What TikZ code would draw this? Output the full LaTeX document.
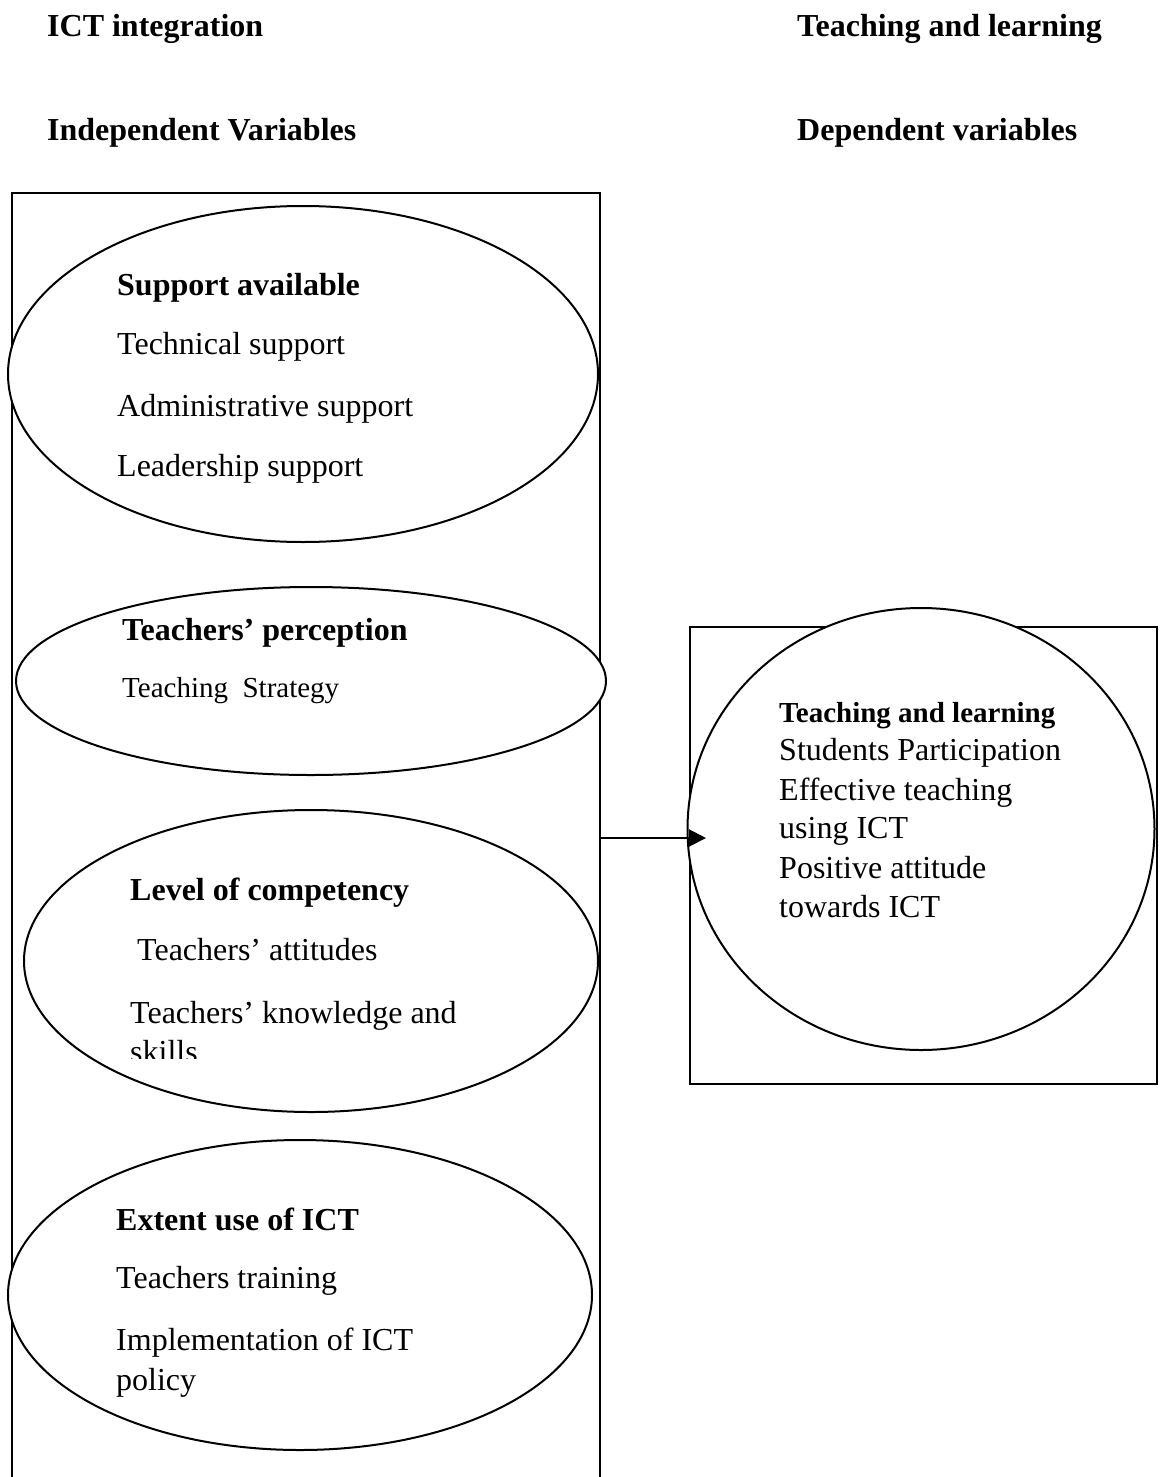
\documentclass[tikz,border=0pt]{standalone}
\usepackage{fontspec}
\setmainfont{Liberation Serif}
\usetikzlibrary{shapes.geometric,arrows.meta}
\tikzset{
  oval/.style={draw, ellipse, fill=white, line width=2pt, inner sep=0pt, outer sep=0pt},
  txt/.style={anchor=base west, inner sep=0pt, font=\fontsize{32}{38}\selectfont},
  bold/.style={txt, font=\fontsize{32}{38}\selectfont\bfseries},
  small/.style={txt, font=\fontsize{29}{35}\selectfont},
}
\begin{document}
\begin{tikzpicture}[x=1pt, y=-1pt]
  \useasboundingbox (0,0) rectangle (1160,1477);
  % headings
  \node[bold] (h1) at (47,37) {ICT integration};
  \node[bold] (h2) at (797,37) {Teaching and learning};
  \node[bold] (h3) at (47,140) {Independent Variables};
  \node[bold] (h4) at (797,140) {Dependent variables};
  % boxes
  \draw[line width=2pt] (12,1480) -- (12,193) -- (600,193) -- (600,1480);
  \draw[line width=2pt] (690,627) rectangle (1157,1084);
  % ovals
  \node[oval, minimum width=590pt, minimum height=336pt] (support) at (303,374) {};
  \node[oval, minimum width=590pt, minimum height=188pt] (percep) at (311,681) {};
  \node[oval, minimum width=574pt, minimum height=302pt] (compet) at (311,961) {};
  \node[oval, minimum width=584pt, minimum height=310pt] (extent) at (300,1295) {};
  \node[oval, minimum width=467pt, minimum height=442pt] (teach) at (921,829) {};
  % texts
  \node[bold] (s0) at (117,295) {Support available};
  \node[txt] (s1) at (117,354) {Technical support};
  \node[txt] (s2) at (117,416) {Administrative support};
  \node[txt] (s3) at (117,476) {Leadership support};
  \node[bold] (p0) at (122,640) {Teachers’ perception};
  \node[small] (p1) at (122,697) {Teaching\ \ Strategy};
  \node[bold] (c0) at (130,900) {Level of competency};
  \node[txt] (c1) at (137,960) {Teachers’ attitudes};
  \node[txt] (c2) at (130,1023) {Teachers’ knowledge and};
  \begin{scope}
    \clip (0,0) rectangle (1160,1058);
    \node[txt] (c3) at (130,1062) {skills};
  \end{scope}
  \node[bold] (e0) at (116,1230) {Extent use of ICT};
  \node[txt] (e1) at (116,1288) {Teachers training};
  \node[txt] (e2) at (116,1350) {Implementation of ICT};
  \node[txt] (e3) at (116,1390) {policy};
  \node[bold, font=\fontsize{29}{35}\selectfont\bfseries] (r0) at (779,722) {Teaching and learning};
  \node[txt] (r1) at (779,760) {Students Participation};
  \node[txt] (r2) at (779,800) {Effective teaching};
  \node[txt] (r3) at (779,838) {using ICT};
  \node[txt] (r4) at (779,878) {Positive attitude};
  \node[txt] (r5) at (779,917) {towards ICT};
  % arrow
  \coordinate (from) at (600,838);
  \coordinate (to) at (706,838);
  \draw[line width=2pt, -{Triangle[length=17pt,width=17pt]}] (from) -- (to);
\end{tikzpicture}
\end{document}
